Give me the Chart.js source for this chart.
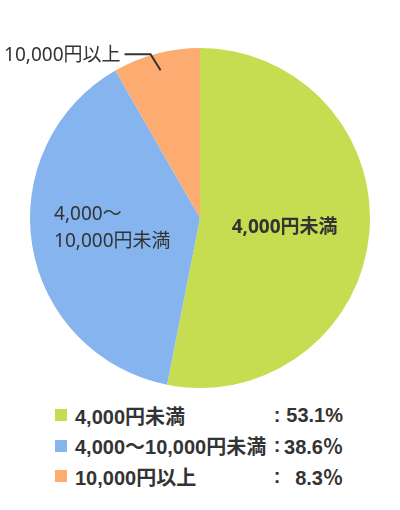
<!DOCTYPE html>
<html>
<head>
<meta charset="utf-8">
<script src="https://cdn.jsdelivr.net/npm/chart.js@4"></script>
<style>
  body { margin: 0; background: #fff; font-family: "Liberation Sans", "Noto Sans CJK JP", sans-serif; color: #333; }
  #wrap { position: relative; width: 400px; height: 390px; }
  #legend { margin: 10px 0 0 55px; font-weight: bold; font-size: 20px; }
  .row { display: flex; align-items: center; height: 30.5px; }
  .sw { width: 12px; height: 12px; margin-right: 8px; flex: none; }
  .name { width: 195px; white-space: nowrap; flex: none; }
  .colon { width: 14px; text-align: center; flex: none; }
  .val { width: 59px; text-align: right; flex: none; }
</style>
</head>
<body>
<div id="wrap"><canvas id="pieChart"></canvas></div>
<div id="legend"></div>
<script>
// chart data
const categories = ['4,000円未満', '4,000～10,000円未満', '10,000円以上'];
const sliceLabels = [['4,000円未満'], ['4,000～', '10,000円未満'], ['10,000円以上']];
const values = [53.1, 38.6, 8.3];
const valueLabels = ['53.1%', '38.6％', '8.3％'];
const colors = ['#c6dd52', '#86b4ee', '#fcab71'];

const labelFont = '"Noto Sans", "Noto Sans CJK JP"';

// draws the slice labels (two inside, one outside with a leader line)
const sliceLabelPlugin = {
    id: 'sliceLabels',
    afterDatasetsDraw(chart) {
        const ctx = chart.ctx;
        const arcs = chart.getDatasetMeta(0).data;
        ctx.save();
        ctx.fillStyle = '#333';
        ctx.textBaseline = 'middle';

        arcs.forEach((arc, i) => {
            const p = arc.getProps(['x', 'y', 'startAngle', 'endAngle', 'outerRadius']);
            const mid = (p.startAngle + p.endAngle) / 2;
            const R = p.outerRadius;
            if (i === 0) {
                ctx.font = 'bold 19px ' + labelFont;
                ctx.textAlign = 'center';
                const x = p.x + Math.cos(mid) * R * 0.5;
                const y = p.y + Math.sin(mid) * R * 0.5 + 1;
                ctx.fillText(sliceLabels[i][0], x, y);
            } else if (i === 1) {
                ctx.font = '19px ' + labelFont;
                ctx.textAlign = 'left';
                const x = p.x + Math.cos(mid) * R * 0.87;
                const y = p.y + Math.sin(mid) * R * 0.87 - 14;
                ctx.fillText(sliceLabels[i][0], x, y - 13);
                ctx.fillText(sliceLabels[i][1], x, y + 14);
            } else {
                const ax = p.x + Math.cos(mid) * R * 0.9;
                const ay = p.y + Math.sin(mid) * R * 0.9;
                const ex = ax - 10, ey = ay - 16;
                ctx.strokeStyle = '#333';
                ctx.lineWidth = 2;
                ctx.beginPath();
                ctx.moveTo(ax, ay);
                ctx.lineTo(ex, ey);
                ctx.lineTo(ex - 26, ey);
                ctx.stroke();
                ctx.font = '19px ' + labelFont;
                ctx.textAlign = 'right';
                ctx.fillText(sliceLabels[i][0], ex - 30, ey + 1);
            }
        });
        ctx.restore();
    }
};

function createPieChart() {
    const ctx = document.getElementById('pieChart').getContext('2d');
    new Chart(ctx, {
        type: 'pie',
        data: {
            labels: categories,
            datasets: [{
                data: values,
                backgroundColor: colors,
                borderWidth: 0
            }]
        },
        options: {
            responsive: true,
            maintainAspectRatio: false,
            animation: false,
            layout: { padding: { top: 48, bottom: 2 } },
            plugins: {
                legend: { display: false },
                tooltip: { enabled: false }
            }
        },
        plugins: [sliceLabelPlugin]
    });
}

// html legend under the pie
function buildLegend() {
    const legend = document.getElementById('legend');
    categories.forEach((name, i) => {
        const row = document.createElement('div');
        row.className = 'row';
        row.innerHTML = '<span class="sw" style="background:' + colors[i] + '"></span>' +
            '<span class="name">' + name + '</span>' +
            '<span class="colon">:</span>' +
            '<span class="val">' + valueLabels[i] + '</span>';
        legend.appendChild(row);
    });
}

window.onload = function() {
    createPieChart();
    buildLegend();
};
</script>
</body>
</html>
